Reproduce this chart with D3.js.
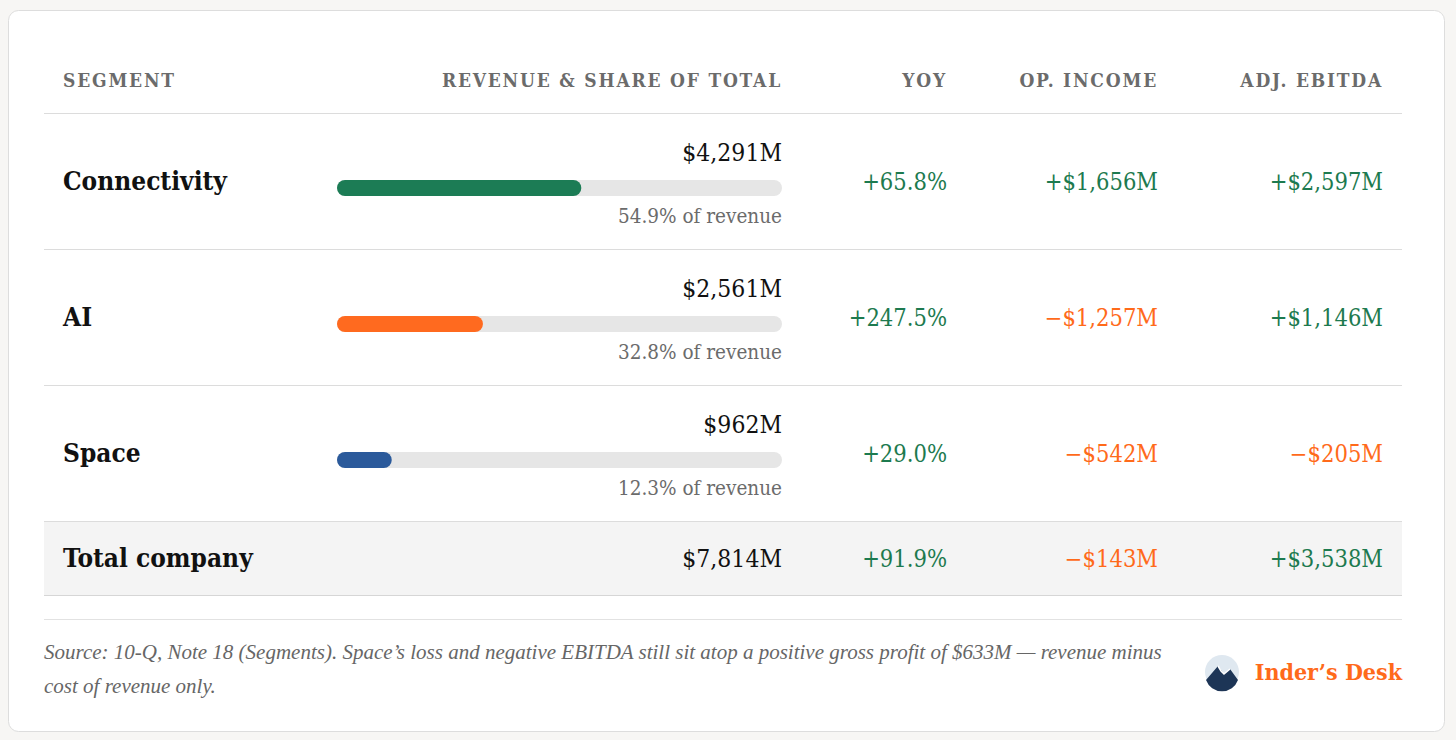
<!DOCTYPE html>
<html><head><meta charset="utf-8">
<script src="https://cdn.jsdelivr.net/npm/d3@7"></script>
<style>
html,body{margin:0;padding:0;background:#f7f6f4;}
svg{display:block;}
</style></head>
<body>
<svg id="c" width="1456" height="740"></svg>
<script>
const segments = ["Connectivity","AI","Space"];
const revenue = [4291, 2561, 962];
const share = [54.9, 32.8, 12.3];
const yoy = [65.8, 247.5, 29.0];
const opIncome = [1656, -1257, -542];
const ebitda = [2597, 1146, -205];
const total = {label:"Total company", revenue:7814, yoy:91.9, op:-143, ebitda:3538};
const headers = ["SEGMENT","REVENUE & SHARE OF TOTAL","YOY","OP. INCOME","ADJ. EBITDA"];
const barColors = ["#1c7c55","#ff6a1f","#2b5a9b"];

const F = "'DejaVu Serif Condensed','DejaVu Serif',serif";
const GREEN="#1d7a4f", ORANGE="#ff6a1a";
const svg = d3.select("#c");
svg.append("rect").attr("x",8.5).attr("y",10.5).attr("width",1436).attr("height",721).attr("rx",10)
  .attr("fill","#fff").attr("stroke","#dddddd");

const L=44, R=1402;
const colX = [63, 782, 947, 1158, 1383];
const hdr = svg.append("g");
headers.forEach((h,i)=>hdr.append("text").attr("x",colX[i]).attr("y",87)
  .attr("text-anchor",i==0?"start":"end").attr("font-family",F).attr("font-weight","bold")
  .attr("font-size",19).attr("letter-spacing",1.8).attr("fill","#6b6b6b").text(h));
const line=(y,c)=>svg.append("line").attr("x1",L).attr("x2",R).attr("y1",y+0.5).attr("y2",y+0.5).attr("stroke",c||"#dcdcdc");
line(113);

const rowY = d3.scaleBand().domain(segments).range([113,521]);
const x = d3.scaleLinear().domain([0,100]).range([337,782]);
const money = v => (v<0?"\u2212":"+")+"$"+d3.format(",")(Math.abs(v))+"M";
const pct = v => "+"+v.toFixed(1)+"%";
const col = v => v<0?ORANGE:GREEN;

segments.forEach((s,i)=>{
  const y0=rowY(s), cy=y0+rowY.bandwidth()/2;
  const g=svg.append("g");
  g.append("text").attr("x",63).attr("y",cy+9).attr("font-family",F).attr("font-weight","bold")
    .attr("font-size",26).attr("fill","#111").text(s);
  g.append("text").attr("x",782).attr("y",cy-20).attr("text-anchor","end").attr("font-family",F)
    .attr("font-size",24.5).attr("fill","#111").text("$"+d3.format(",")(revenue[i])+"M");
  g.append("rect").attr("x",x(0)).attr("y",cy-1).attr("width",x(100)-x(0)).attr("height",16).attr("rx",8).attr("fill","#e6e6e6");
  g.append("rect").attr("x",x(0)).attr("y",cy-1).attr("width",x(share[i])-x(0)).attr("height",16).attr("rx",8).attr("fill",barColors[i]);
  g.append("text").attr("x",782).attr("y",cy+42).attr("text-anchor","end").attr("font-family",F)
    .attr("font-size",20.5).attr("fill","#6b6b6b").text(share[i].toFixed(1)+"% of revenue");
  [[947,pct(yoy[i]),GREEN],[1158,money(opIncome[i]),col(opIncome[i])],[1383,money(ebitda[i]),col(ebitda[i])]]
    .forEach(([xx,t,c])=>g.append("text").attr("x",xx).attr("y",cy+9).attr("text-anchor","end")
      .attr("font-family",F).attr("font-size",23.5).attr("fill",c).text(t));
  line(rowY(s)+rowY.bandwidth());
});
svg.append("rect").attr("x",L).attr("y",521).attr("width",R-L).attr("height",74).attr("fill","#f4f4f4");
line(521); line(595,"#d6d6d6");
const ty=567;
svg.append("text").attr("x",63).attr("y",ty).attr("font-family",F).attr("font-weight","bold").attr("font-size",26).attr("fill","#111").text(total.label);
[[782,"$"+d3.format(",")(total.revenue)+"M","#111",24.5],[947,pct(total.yoy),GREEN,23.5],[1158,money(total.op),col(total.op),23.5],[1383,money(total.ebitda),col(total.ebitda),23.5]]
  .forEach(([xx,t,c,fs])=>svg.append("text").attr("x",xx).attr("y",ty).attr("text-anchor","end").attr("font-family",F).attr("font-size",fs).attr("fill",c).text(t));
line(619,"#e2e2e2");
const FI="'Liberation Serif',serif";
["Source: 10-Q, Note 18 (Segments). Space\u2019s loss and negative EBITDA still sit atop a positive gross profit of $633M \u2014 revenue minus",
 "cost of revenue only."].forEach((t,i)=>svg.append("text").attr("x",44).attr("y",659+i*34).attr("font-family",FI)
  .attr("font-style","italic").attr("font-size",21).attr("fill","#666").text(t));
const lg=svg.append("g").attr("transform","translate(1222,672)");
lg.append("circle").attr("r",17).attr("fill","#dfe8f0");
lg.append("path").attr("d","M-16,8 L-4,-6 L2,2 L8,-3 L16,8 A17,17 0 0 1 -16,8Z").attr("fill","#1d3556");
lg.append("path").attr("d","M-4,-6 L-1,-1 L2,2 L8,-3").attr("fill","none").attr("stroke","#fff").attr("stroke-width",1.5);
svg.append("text").attr("x",1402).attr("y",680).attr("text-anchor","end").attr("font-family",F).attr("font-weight","bold")
  .attr("font-size",23).attr("fill","#ff6a1a").text("Inder\u2019s Desk");
</script>
</body></html>
